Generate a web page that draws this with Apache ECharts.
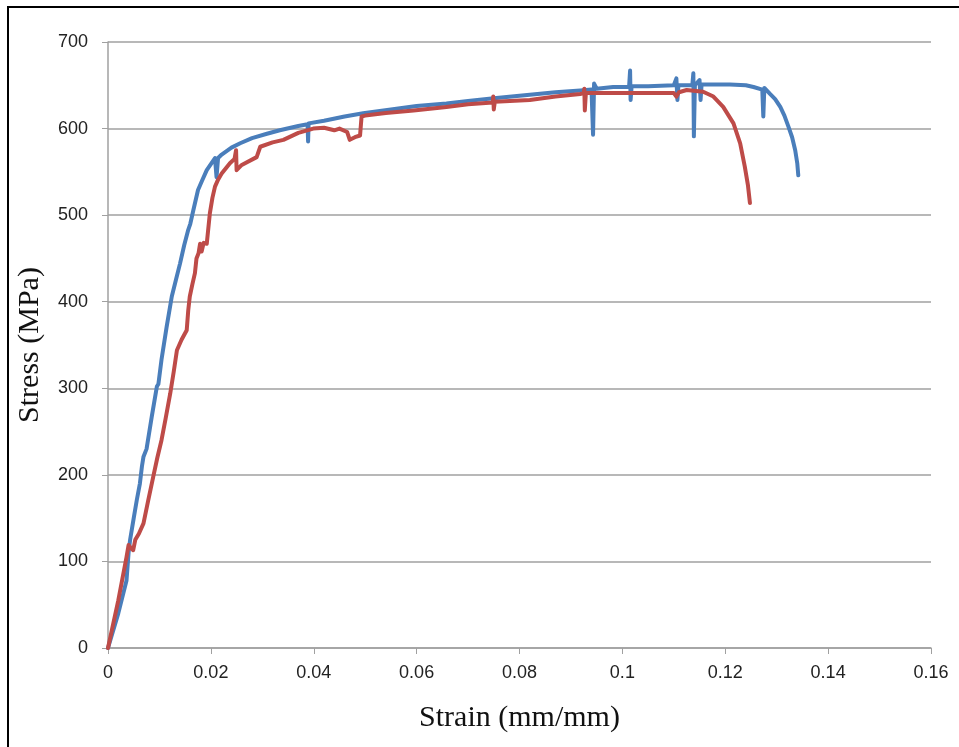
<!DOCTYPE html>
<html>
<head>
<meta charset="utf-8">
<script src="https://cdn.jsdelivr.net/npm/echarts@6/dist/echarts.min.js"></script>
<style>html,body{margin:0;padding:0;background:#fff}#c{width:959px;height:747px}</style>
</head>
<body>
<div id="c"></div>
<script>
var xTicks = [0, 0.02, 0.04, 0.06, 0.08, 0.1, 0.12, 0.14, 0.16];
var yTicks = [0, 100, 200, 300, 400, 500, 600, 700];

var blueStrain = [0,0.0020,0.0036,0.0040,0.0043,0.0050,0.0056,0.0062,0.0066,0.0069,0.0075,0.0085,0.0095,0.0098,0.0104,0.0114,0.0124,0.0132,0.0140,0.0148,0.0156,0.0160,0.0166,0.0175,0.0183,0.0192,0.0208,0.0211,0.0214,0.0221,0.0240,0.0257,0.0280,0.0309,0.0334,0.0370,0.0388,0.0389,0.0390,0.0420,0.0460,0.0496,0.055,0.060,0.0658,0.070,0.075,0.082,0.087,0.0918,0.0940,0.0943,0.0945,0.0950,0.0982,0.1013,0.1015,0.1016,0.1018,0.105,0.1100,0.1105,0.1107,0.1109,0.1136,0.1138,0.1139,0.1141,0.1150,0.1152,0.1154,0.118,0.1209,0.124,0.1255,0.1272,0.1274,0.1276,0.1287,0.1297,0.1307,0.1315,0.1323,0.1330,0.1336,0.1340,0.1342];
var blueStress = [0,40,78,110,125,150,171,190,210,221,230,267,302,305,333,371,406,425,444,465,483,490,506,529,540,552,566,544,566,570,578,583,589,594,598,603,605,585,606,609,614,617.6,622,626,629,632,635,639,642,644,645,593,652,646,648,648,667,633,649,649,650,658,633,650,650,664,591,650,656,633,651,651,651,650,648,645,614,647,640,634,625,615,602,590,575,560,546];

var redStrain = [0,0.0020,0.0036,0.0040,0.0045,0.0049,0.0053,0.0060,0.0069,0.0078,0.0088,0.0096,0.0104,0.0112,0.0121,0.0128,0.0134,0.0143,0.0153,0.0156,0.0159,0.0164,0.0169,0.0172,0.0176,0.0179,0.0182,0.0186,0.0192,0.0198,0.0203,0.0208,0.0214,0.0221,0.0237,0.0246,0.0249,0.0250,0.0260,0.0289,0.0296,0.0320,0.0341,0.0370,0.0399,0.0420,0.0440,0.0450,0.0465,0.0470,0.0480,0.0490,0.0493,0.0500,0.0540,0.0594,0.0658,0.0700,0.0748,0.0749,0.0750,0.0752,0.0820,0.0870,0.0918,0.0925,0.0926,0.0927,0.0929,0.0982,0.1050,0.1100,0.1105,0.1110,0.1125,0.1157,0.1177,0.1196,0.1216,0.1229,0.1238,0.1244,0.1248];
var redStress = [0,55,105,119,115,113,125,132,144,170,198,220,240,265,294,320,344,356,367,390,406,420,433,450,456,467,458,468,467,502,520,533,541,548,560,565,575,552,558,567,579,584,587,595,600,601,598,600,596,587,590,592,614,615,618,621,625,628,630,637,622,631,633,637,640,641,646,621,641,641,641,641,637,642,644.6,642.6,637,625,606,583,556,535,514];

function pairs(xs, ys) { return xs.map(function (x, i) { return [x, ys[i]]; }); }

var chart = echarts.init(document.getElementById('c'), null, { renderer: 'canvas' });
var labelFont = { color: '#222', fontSize: 18, fontFamily: 'Liberation Sans, Arial, sans-serif' };
var nameFont = { color: '#111', fontSize: 30, fontFamily: 'Liberation Serif, Times New Roman, serif' };
chart.setOption({
  animation: false,
  backgroundColor: '#fff',
  grid: { left: 108, right: 28, top: 42, bottom: 99, containLabel: false },
  xAxis: {
    type: 'value', min: xTicks[0], max: xTicks[xTicks.length - 1], interval: 0.02,
    name: 'Strain (mm/mm)', nameLocation: 'middle', nameGap: 55, nameTextStyle: nameFont,
    axisLine: { show: true, lineStyle: { color: '#a0a0a0', width: 1.5 } },
    axisTick: { show: true, length: 6, lineStyle: { color: '#a0a0a0' } },
    axisLabel: Object.assign({ margin: 16, formatter: function (v) { return String(+v.toFixed(2)); } }, labelFont),
    splitLine: { show: false }
  },
  yAxis: {
    type: 'value', min: yTicks[0], max: yTicks[yTicks.length - 1], interval: 100,
    name: 'Stress (MPa)', nameLocation: 'middle', nameGap: 63, nameTextStyle: nameFont,
    axisLine: { show: true, lineStyle: { color: '#a0a0a0', width: 1.5 } },
    axisTick: { show: true, length: 6, lineStyle: { color: '#a0a0a0' } },
    axisLabel: Object.assign({ margin: 20 }, labelFont),
    splitLine: { show: true, lineStyle: { color: '#a0a0a0', width: 1.5 } }
  },
  series: [
    { type: 'line', data: pairs(blueStrain, blueStress), showSymbol: false, smooth: false,
      lineStyle: { color: '#4a7ebb', width: 4, join: 'round', cap: 'round' } },
    { type: 'line', data: pairs(redStrain, redStress), showSymbol: false, smooth: false,
      lineStyle: { color: '#be4b48', width: 4, join: 'round', cap: 'round' } }
  ],
  graphic: [
    { type: 'line', shape: { x1: 8, y1: 7, x2: 8, y2: 747 }, style: { stroke: '#000', lineWidth: 2 } },
    { type: 'line', shape: { x1: 7, y1: 7, x2: 959, y2: 7 }, style: { stroke: '#000', lineWidth: 2 } }
  ]
});
</script>
</body>
</html>
